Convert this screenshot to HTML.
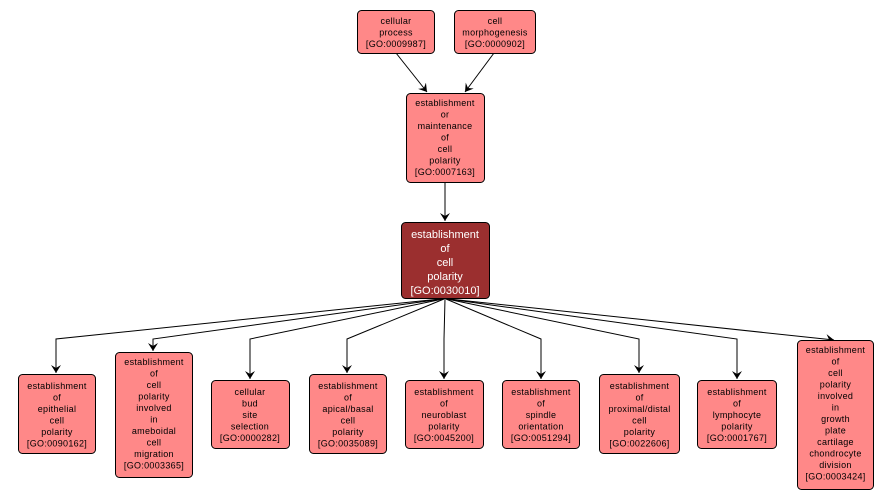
<!DOCTYPE html>
<html><head><meta charset="utf-8"><style>
html,body{margin:0;padding:0;background:#fff;}
svg{display:block;}
text{font-family:"Liberation Sans",sans-serif;font-size:9px;fill:#000;text-anchor:middle;letter-spacing:0.3px;}
.c text{fill:#fff;font-size:11px;letter-spacing:0;}
rect{fill:#ff8888;stroke:#000;stroke-width:1;}
.l{fill:none;stroke:#000;stroke-width:1;}
</style></head><body>
<svg width="892" height="500" viewBox="0 0 892 500">
<defs><marker id="a" markerWidth="10" markerHeight="10" refX="8" refY="5" orient="auto" markerUnits="userSpaceOnUse"><path d="M0,0 L8,5 L0,10 L3,5 z" fill="#000"/></marker></defs>
<g class="l">
<line x1="396" y1="53" x2="427" y2="92" marker-end="url(#a)"/>
<line x1="494" y1="53" x2="465" y2="92" marker-end="url(#a)"/>
<line x1="445" y1="182" x2="445" y2="221" marker-end="url(#a)"/>
<polyline points="440,299 56,339 56,373" marker-end="url(#a)"/>
<polyline points="442,299 153,339 153,351" marker-end="url(#a)"/>
<polyline points="443,299 250,339 250,379" marker-end="url(#a)"/>
<polyline points="444,299 347,339 347,373" marker-end="url(#a)"/>
<polyline points="445,299 444,339 444,379" marker-end="url(#a)"/>
<polyline points="446,299 541,339 541,379" marker-end="url(#a)"/>
<polyline points="447,299 639,339 639,373" marker-end="url(#a)"/>
<polyline points="448,299 737,339 737,379" marker-end="url(#a)"/>
<line x1="449" y1="299" x2="834" y2="340" marker-end="url(#a)"/>
</g>
<rect x="357.5" y="10.5" width="77" height="43" rx="4"/>
<text x="396" y="24">cellular</text><text x="396" y="35.5">process</text><text x="396" y="47">[GO:0009987]</text>
<rect x="454.5" y="10.5" width="81" height="43" rx="4"/>
<text x="495" y="24">cell</text><text x="495" y="35.5">morphogenesis</text><text x="495" y="47">[GO:0000902]</text>
<rect x="406.5" y="93.5" width="78" height="89" rx="4"/>
<g><text x="445" y="106">establishment</text><text x="445" y="117.5">or</text><text x="445" y="129">maintenance</text><text x="445" y="140.5">of</text><text x="445" y="152">cell</text><text x="445" y="163.5">polarity</text><text x="445" y="175">[GO:0007163]</text></g>
<g class="c"><rect x="401.5" y="222.5" width="88" height="76" rx="4" style="fill:#9b2f2f"/>
<text x="445" y="238">establishment</text><text x="445" y="252">of</text><text x="445" y="266">cell</text><text x="445" y="280">polarity</text><text x="445" y="294">[GO:0030010]</text></g>

<rect x="18.5" y="374.5" width="77" height="79" rx="4"/>
<text x="57" y="389">establishment</text><text x="57" y="400.5">of</text><text x="57" y="412">epithelial</text><text x="57" y="423.5">cell</text><text x="57" y="435">polarity</text><text x="57" y="446.5">[GO:0090162]</text>

<rect x="115.5" y="352.5" width="77" height="125" rx="4"/>
<text x="154" y="365">establishment</text><text x="154" y="376.5">of</text><text x="154" y="388">cell</text><text x="154" y="399.5">polarity</text><text x="154" y="411">involved</text><text x="154" y="422.5">in</text><text x="154" y="434">ameboidal</text><text x="154" y="445.5">cell</text><text x="154" y="457">migration</text><text x="154" y="468.5">[GO:0003365]</text>

<rect x="211.5" y="380.5" width="78" height="68" rx="4"/>
<text x="250" y="395">cellular</text><text x="250" y="406.5">bud</text><text x="250" y="418">site</text><text x="250" y="429.5">selection</text><text x="250" y="441">[GO:0000282]</text>

<rect x="309.5" y="374.5" width="77" height="79" rx="4"/>
<text x="348" y="389">establishment</text><text x="348" y="400.5">of</text><text x="348" y="412">apical/basal</text><text x="348" y="423.5">cell</text><text x="348" y="435">polarity</text><text x="348" y="446.5">[GO:0035089]</text>

<rect x="405.5" y="380.5" width="78" height="68" rx="4"/>
<text x="444" y="395">establishment</text><text x="444" y="406.5">of</text><text x="444" y="418">neuroblast</text><text x="444" y="429.5">polarity</text><text x="444" y="441">[GO:0045200]</text>

<rect x="502.5" y="380.5" width="77" height="68" rx="4"/>
<text x="541" y="395">establishment</text><text x="541" y="406.5">of</text><text x="541" y="418">spindle</text><text x="541" y="429.5">orientation</text><text x="541" y="441">[GO:0051294]</text>

<rect x="599.5" y="374.5" width="80" height="79" rx="4"/>
<text x="639.5" y="389">establishment</text><text x="639.5" y="400.5">of</text><text x="639.5" y="412">proximal/distal</text><text x="639.5" y="423.5">cell</text><text x="639.5" y="435">polarity</text><text x="639.5" y="446.5">[GO:0022606]</text>

<rect x="697.5" y="380.5" width="79" height="68" rx="4"/>
<text x="737" y="395">establishment</text><text x="737" y="406.5">of</text><text x="737" y="418">lymphocyte</text><text x="737" y="429.5">polarity</text><text x="737" y="441">[GO:0001767]</text>

<rect x="797.5" y="340.5" width="76" height="149" rx="4"/>
<text x="835.5" y="353">establishment</text><text x="835.5" y="364.5">of</text><text x="835.5" y="376">cell</text><text x="835.5" y="387.5">polarity</text><text x="835.5" y="399">involved</text><text x="835.5" y="410.5">in</text><text x="835.5" y="422">growth</text><text x="835.5" y="433.5">plate</text><text x="835.5" y="445">cartilage</text><text x="835.5" y="456.5">chondrocyte</text><text x="835.5" y="468">division</text><text x="835.5" y="479.5">[GO:0003424]</text>
</svg>
</body></html>
